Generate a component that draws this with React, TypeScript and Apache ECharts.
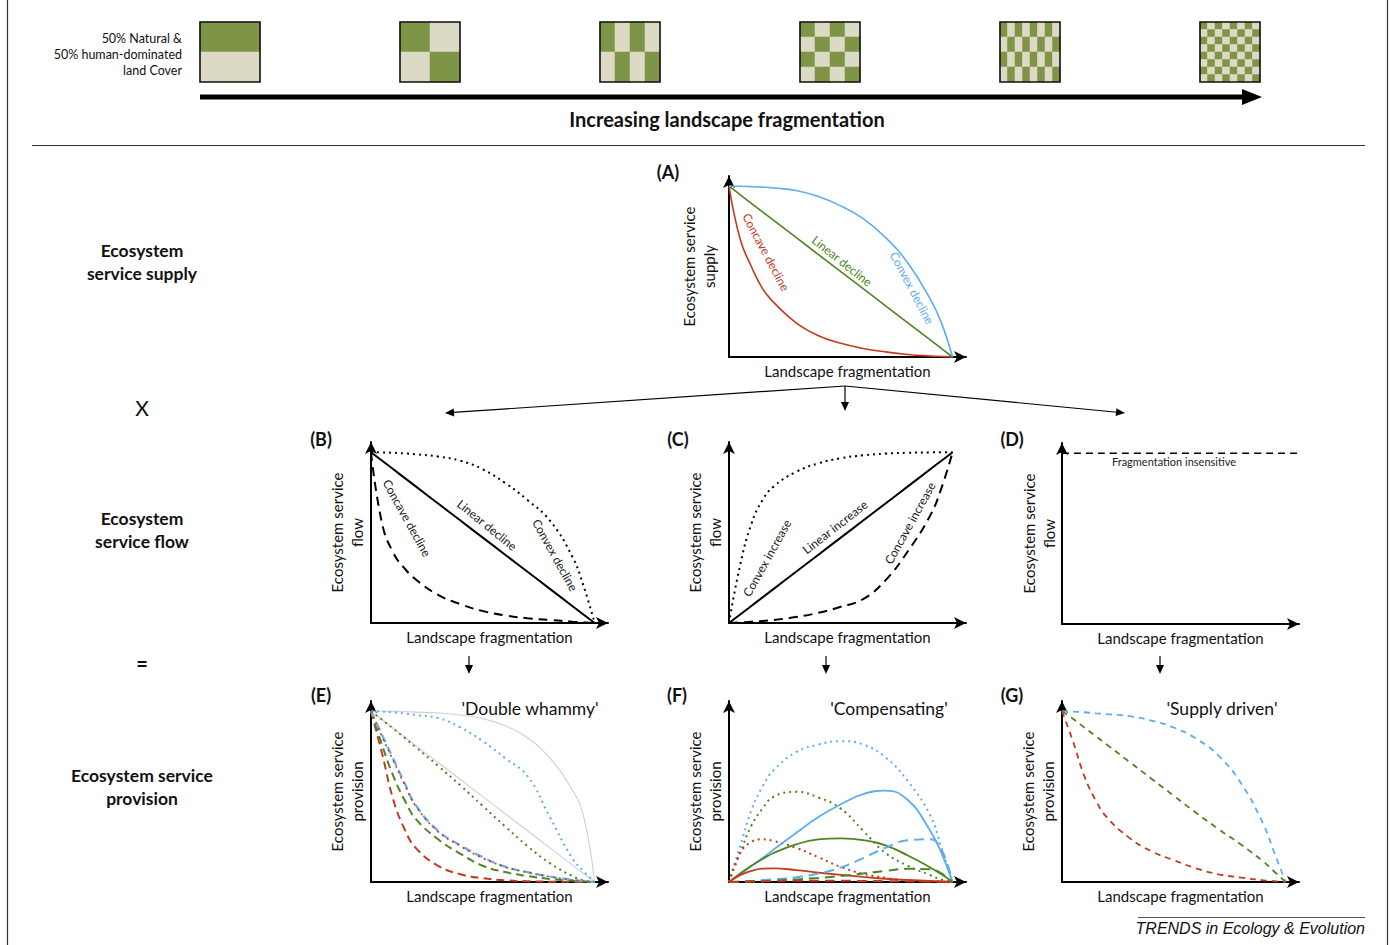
import React, { useEffect, useRef } from "react";
import * as echarts from "echarts";

const FONT = "Lato, 'Noto Sans', sans-serif";
const RED = "#c43a1f";
const GREEN = "#4e8521";
const BLUE = "#5eacf3";
const GRAY = "#d0d0d0";
const PATCH_GREEN = "#7e9446";
const PATCH_BEIGE = "#dcd9c5";

// Landscape patterns (rows top to bottom; 1 = natural, 0 = human-dominated)
const patchRows1 = ["1", "0"];
const patchRows2 = ["10", "01"];
const patchRows3 = ["1010", "0101"];
const patchRows4 = ["1010", "0101", "1010", "0101"];
const patchRows5 = ["10101010", "01010101", "10101010", "01010101"];
const patchRows6 = ["10101010", "01010101", "10101010", "01010101", "10101010", "01010101", "10101010", "01010101"];
const patchLevels = [patchRows1, patchRows2, patchRows3, patchRows4, patchRows5, patchRows6];

// Landscape fragmentation sample positions (0..1)
const xs = [0, 0.05, 0.1, 0.15, 0.2, 0.3, 0.4, 0.5, 0.6, 0.7, 0.8, 0.9, 0.95, 1];

// (A) supply
const supplyConcave = [1, 0.69, 0.53, 0.40, 0.32, 0.20, 0.125, 0.08, 0.05, 0.03, 0.015, 0.006, 0.003, 0];
const supplyLinear = [1, 0.95, 0.9, 0.85, 0.8, 0.7, 0.6, 0.5, 0.4, 0.3, 0.2, 0.1, 0.05, 0];
const supplyConvex = [1, 1, 0.998, 0.995, 0.99, 0.975, 0.94, 0.885, 0.81, 0.7, 0.55, 0.34, 0.2, 0];

// (B) flow, declining
const flowConcaveDec = [1, 0.58, 0.41, 0.32, 0.255, 0.165, 0.11, 0.07, 0.044, 0.028, 0.018, 0.008, 0.004, 0];
const flowLinearDec = [1, 0.95, 0.9, 0.85, 0.8, 0.7, 0.6, 0.5, 0.4, 0.3, 0.2, 0.1, 0.05, 0];
const flowConvexDec = [1, 0.999, 0.997, 0.993, 0.988, 0.975, 0.95, 0.9, 0.82, 0.72, 0.6, 0.39, 0.22, 0];

// (C) flow, increasing
const flowConvexInc = [0, 0.34, 0.58, 0.72, 0.8, 0.885, 0.935, 0.965, 0.982, 0.992, 0.997, 0.999, 1, 1];
const flowLinearInc = [0, 0.05, 0.1, 0.15, 0.2, 0.3, 0.4, 0.5, 0.6, 0.7, 0.8, 0.9, 0.95, 1];
const flowConcaveInc = [0, 0.003, 0.007, 0.012, 0.018, 0.035, 0.06, 0.095, 0.14, 0.25, 0.42, 0.63, 0.79, 1];

// (D) flow, insensitive
const flowInsensX = [0, 1.1];
const flowInsensY = [1, 1];

// (E) 'Double whammy'
const eGrayConvex = [1, 1, 0.999, 0.997, 0.995, 0.99, 0.978, 0.957, 0.915, 0.845, 0.725, 0.54, 0.39, 0];
const eGrayLinear = [1, 0.95, 0.9, 0.85, 0.8, 0.7, 0.6, 0.5, 0.4, 0.3, 0.2, 0.1, 0.05, 0];
const eBlueDotted = [1, 0.998, 0.993, 0.987, 0.978, 0.96, 0.905, 0.825, 0.725, 0.62, 0.38, 0.14, 0.065, 0];
const eGreenDotted = [1, 0.95, 0.898, 0.845, 0.79, 0.68, 0.565, 0.445, 0.325, 0.21, 0.11, 0.035, 0.01, 0];
const eBlueDashed = [1, 0.86, 0.72, 0.58, 0.45, 0.3, 0.215, 0.145, 0.09, 0.058, 0.032, 0.013, 0.005, 0];
const eRedDotted = [1, 0.85, 0.71, 0.57, 0.445, 0.295, 0.21, 0.14, 0.088, 0.056, 0.031, 0.012, 0.005, 0];
const eGreenDashed = [1, 0.8, 0.62, 0.48, 0.37, 0.25, 0.165, 0.095, 0.058, 0.035, 0.018, 0.007, 0.003, 0];
const eRedDashed = [1, 0.75, 0.48, 0.31, 0.2, 0.095, 0.045, 0.022, 0.01, 0.005, 0.002, 0.001, 0, 0];

// (F) 'Compensating'
const fBlueDotted = [0, 0.21, 0.42, 0.56, 0.655, 0.76, 0.805, 0.825, 0.805, 0.73, 0.59, 0.39, 0.2, 0];
const fGreenDotted = [0, 0.17, 0.33, 0.43, 0.5, 0.528, 0.495, 0.43, 0.3, 0.17, 0.095, 0.04, 0.015, 0];
const fRedDotted = [0, 0.17, 0.235, 0.25, 0.24, 0.2, 0.145, 0.088, 0.048, 0.024, 0.01, 0.004, 0.002, 0];
const fBlueSolid = [0, 0.045, 0.093, 0.14, 0.19, 0.287, 0.38, 0.455, 0.515, 0.535, 0.48, 0.3, 0.17, 0];
const fGreenSolid = [0, 0.05, 0.095, 0.135, 0.17, 0.22, 0.25, 0.255, 0.245, 0.215, 0.155, 0.085, 0.045, 0];
const fRedSolid = [0, 0.04, 0.065, 0.078, 0.08, 0.07, 0.055, 0.042, 0.03, 0.019, 0.012, 0.006, 0.003, 0];
const fBlueDashed = [0, 0.002, 0.006, 0.011, 0.016, 0.028, 0.05, 0.085, 0.14, 0.2, 0.245, 0.25, 0.19, 0];
const fGreenDashed = [0, 0.001, 0.003, 0.005, 0.008, 0.015, 0.024, 0.035, 0.05, 0.065, 0.077, 0.075, 0.05, 0];
const fRedDashed = [0, 0.002, 0.004, 0.005, 0.006, 0.007, 0.007, 0.007, 0.006, 0.005, 0.004, 0.003, 0.002, 0];

// (G) 'Supply driven'
const gBlueDashed = [1, 0.998, 0.994, 0.988, 0.983, 0.972, 0.945, 0.905, 0.84, 0.74, 0.58, 0.34, 0.17, 0];
const gGreenDashed = [1, 0.955, 0.905, 0.855, 0.805, 0.705, 0.605, 0.505, 0.405, 0.31, 0.22, 0.12, 0.06, 0];
const gRedDashed = [1, 0.82, 0.62, 0.48, 0.38, 0.26, 0.18, 0.128, 0.08, 0.045, 0.026, 0.01, 0.005, 0];

// Layout
const AX_MAX = 1.06;
const PW = 237;
const PH = 181;
const PANELS = [
  { left: 729, top: 176, yName: "Ecosystem service\nsupply", gap: 10 },
  { left: 371, top: 442, yName: "Ecosystem service\nflow", gap: 4 },
  { left: 729, top: 442, yName: "Ecosystem service\nflow", gap: 4 },
  { left: 1062, top: 443, yName: "Ecosystem service\nflow", gap: 3 },
  { left: 371, top: 701, yName: "Ecosystem service\nprovision", gap: 4 },
  { left: 729, top: 701, yName: "Ecosystem service\nprovision", gap: 4 },
  { left: 1062, top: 701, yName: "Ecosystem service\nprovision", gap: 4 },
];
const PATCH_LEFTS = [200, 400, 600, 800, 1000, 1200];
const PATCH_TOP = 22;
const PATCH_SIZE = 60;

const DOT = [2, 4];
const DASH = [9, 6];

function curve(grid: number, ys: number[], color: string, width: number, type: any, xArr: number[] = xs) {
  return {
    type: "line",
    xAxisIndex: grid,
    yAxisIndex: grid,
    data: xArr.map((x, i) => [x, ys[i]]),
    smooth: 0.45,
    showSymbol: false,
    symbol: "none",
    clip: false,
    silent: true,
    lineStyle: { color, width, type, cap: "butt" },
    z: 3,
  };
}

function arrowHead(x1: number, y1: number, x2: number, y2: number, len: number, half: number) {
  const dx = x2 - x1, dy = y2 - y1;
  const L = Math.hypot(dx, dy);
  const ux = dx / L, uy = dy / L;
  const bx = x2 - ux * len, by = y2 - uy * len;
  return [[x2, y2], [bx - uy * half, by + ux * half], [bx + uy * half, by - ux * half]];
}

function arrow(x1: number, y1: number, x2: number, y2: number, w: number, len: number, half: number) {
  const dx = x2 - x1, dy = y2 - y1;
  const L = Math.hypot(dx, dy);
  const ex = x2 - (dx / L) * (len - 1), ey = y2 - (dy / L) * (len - 1);
  return [
    { type: "line", silent: true, z: 10, shape: { x1, y1, x2: ex, y2: ey }, style: { stroke: "#000", lineWidth: w } },
    { type: "polygon", silent: true, z: 10, shape: { points: arrowHead(x1, y1, x2, y2, len, half) }, style: { fill: "#000" } },
  ];
}

function txt(text: string, x: number, y: number, o: any = {}) {
  return {
    type: "text",
    x,
    y,
    rotation: ((o.rot || 0) * Math.PI) / 180,
    silent: true,
    z: 20,
    style: {
      text,
      fill: o.color || "#111",
      fontFamily: o.family || FONT,
      fontSize: o.size || 12,
      fontWeight: o.weight || "normal",
      fontStyle: o.style || "normal",
      align: o.align || "center",
      verticalAlign: "middle",
      lineHeight: o.lh,
    },
  };
}

export default function App() {
  const ref = useRef<HTMLDivElement>(null);

  useEffect(() => {
    if (!ref.current) return;
    const chart = echarts.init(ref.current, null, { renderer: "svg" });

    const grids: any[] = PANELS.map((p) => ({ left: p.left, top: p.top, width: PW, height: PH, containLabel: false }));
    const xAxes: any[] = PANELS.map((_, i) => ({
      gridIndex: i,
      type: "value",
      min: 0,
      max: AX_MAX,
      name: "Landscape fragmentation",
      nameLocation: "middle",
      nameGap: 6,
      nameTextStyle: { fontFamily: FONT, fontSize: 15, color: "#111", verticalAlign: "top" },
      axisLine: { show: true, onZero: false, symbol: ["none", "arrow"], symbolSize: [9, 12], lineStyle: { color: "#000", width: 2 } },
      axisTick: { show: false },
      axisLabel: { show: false },
      splitLine: { show: false },
    }));
    const yAxes: any[] = PANELS.map((p, i) => ({
      gridIndex: i,
      type: "value",
      min: 0,
      max: AX_MAX,
      name: p.yName,
      nameLocation: "middle",
      nameGap: p.gap,
      nameRotate: 90,
      nameTextStyle: { fontFamily: FONT, fontSize: 15, color: "#111", lineHeight: 20 },
      axisLine: { show: true, onZero: false, symbol: ["none", "arrow"], symbolSize: [9, 12], lineStyle: { color: "#000", width: 2 } },
      axisTick: { show: false },
      axisLabel: { show: false },
      splitLine: { show: false },
    }));

    const patchSeries: any[] = [];
    patchLevels.forEach((rows, k) => {
      const gi = PANELS.length + k;
      const nCols = rows[0].length;
      grids.push({ left: PATCH_LEFTS[k], top: PATCH_TOP, width: PATCH_SIZE, height: PATCH_SIZE });
      xAxes.push({ gridIndex: gi, type: "category", show: false, data: Array.from({ length: nCols }, (_, i) => String(i)) });
      yAxes.push({ gridIndex: gi, type: "category", show: false, inverse: true, data: rows.map((_, i) => String(i)) });
      const data: number[][] = [];
      rows.forEach((row, r) => row.split("").forEach((c, col) => data.push([col, r, Number(c)])));
      patchSeries.push({ type: "heatmap", xAxisIndex: gi, yAxisIndex: gi, data, silent: true, itemStyle: { borderWidth: 0 }, emphasis: { disabled: true } });
    });

    const lineSeries: any[] = [
      // A
      curve(0, supplyConcave, RED, 1.6, "solid"),
      curve(0, supplyLinear, GREEN, 1.6, "solid"),
      curve(0, supplyConvex, BLUE, 1.6, "solid"),
      // B
      curve(1, flowConcaveDec, "#000", 2, DASH),
      curve(1, flowLinearDec, "#000", 2, "solid"),
      curve(1, flowConvexDec, "#000", 2, DOT),
      // C
      curve(2, flowConvexInc, "#000", 2, DOT),
      curve(2, flowLinearInc, "#000", 2, "solid"),
      curve(2, flowConcaveInc, "#000", 2, DASH),
      // D
      curve(3, flowInsensY, "#000", 1.6, [7, 5], flowInsensX),
      // E
      curve(4, eGrayConvex, GRAY, 1.1, "solid"),
      curve(4, eGrayLinear, GRAY, 1.1, "solid"),
      curve(4, eBlueDotted, BLUE, 2, DOT),
      curve(4, eGreenDotted, GREEN, 2, DOT),
      curve(4, eRedDashed, RED, 2, [8, 5]),
      curve(4, eGreenDashed, GREEN, 2, [8, 5]),
      curve(4, eBlueDashed, BLUE, 2.2, [8, 5]),
      curve(4, eRedDotted, RED, 1.6, DOT),
      // F
      curve(5, fBlueDotted, BLUE, 2, DOT),
      curve(5, fGreenDotted, GREEN, 2, DOT),
      curve(5, fRedDotted, RED, 2, DOT),
      curve(5, fBlueSolid, BLUE, 1.8, "solid"),
      curve(5, fGreenSolid, GREEN, 1.8, "solid"),
      curve(5, fRedSolid, RED, 1.8, "solid"),
      curve(5, fBlueDashed, BLUE, 2, [10, 6]),
      curve(5, fGreenDashed, GREEN, 2, [10, 6]),
      curve(5, fRedDashed, RED, 2, [10, 6]),
      // G
      curve(6, gBlueDashed, BLUE, 1.8, [6, 5]),
      curve(6, gGreenDashed, GREEN, 1.8, [6, 5]),
      curve(6, gRedDashed, RED, 1.8, [6, 5]),
    ];

    const graphic: any[] = [];
    // frame
    graphic.push({ type: "line", silent: true, shape: { x1: 7.5, y1: 0, x2: 7.5, y2: 945 }, style: { stroke: "#333", lineWidth: 1.2 } });
    graphic.push({ type: "line", silent: true, shape: { x1: 1387.5, y1: 0, x2: 1387.5, y2: 945 }, style: { stroke: "#333", lineWidth: 1.2 } });
    graphic.push({ type: "line", silent: true, shape: { x1: 32, y1: 145.5, x2: 1365, y2: 145.5 }, style: { stroke: "#333", lineWidth: 1.2 } });
    // patch borders
    PATCH_LEFTS.forEach((l) =>
      graphic.push({ type: "rect", silent: true, z: 15, shape: { x: l, y: PATCH_TOP, width: PATCH_SIZE, height: PATCH_SIZE }, style: { fill: "none", stroke: "#111", lineWidth: 1.6 } })
    );
    // big fragmentation arrow
    graphic.push(...arrow(200, 97, 1262, 97, 5, 20, 8));
    graphic.push(txt("Increasing landscape fragmentation", 727, 119, { size: 20, weight: "bold" }));
    graphic.push(txt("50% Natural &\n50% human-dominated\nland Cover", 182, 54, { size: 12.5, align: "right", lh: 16 }));

    // left column
    graphic.push(txt("Ecosystem\nservice supply", 142, 262, { size: 17.5, weight: "bold", lh: 23 }));
    graphic.push(txt("X", 142, 407, { size: 21 }));
    graphic.push(txt("Ecosystem\nservice flow", 142, 530, { size: 17.5, weight: "bold", lh: 23 }));
    graphic.push(txt("=", 142, 663, { size: 20, weight: "bold" }));
    graphic.push(txt("Ecosystem service\nprovision", 142, 787, { size: 17.5, weight: "bold", lh: 23 }));

    // panel letters
    const letters: [string, number, number][] = [
      ["(A)", 668, 172], ["(B)", 321, 439], ["(C)", 678, 439], ["(D)", 1012, 439],
      ["(E)", 321, 695], ["(F)", 677, 695], ["(G)", 1012, 695],
    ];
    letters.forEach(([t, x, y]) => graphic.push(txt(t, x, y, { size: 18, weight: "bold" })));

    // curve labels
    graphic.push(txt("Concave decline", 766, 252, { size: 12, rot: -62, color: RED }));
    graphic.push(txt("Linear decline", 842, 261, { size: 12, rot: -38.5, color: GREEN }));
    graphic.push(txt("Convex decline", 912, 288, { size: 12, rot: -62, color: BLUE }));
    graphic.push(txt("Concave decline", 407, 518, { size: 12, rot: -61, color: "#222" }));
    graphic.push(txt("Linear decline", 487, 525, { size: 12, rot: -39, color: "#222" }));
    graphic.push(txt("Convex decline", 555, 555, { size: 12, rot: -61, color: "#222" }));
    graphic.push(txt("Convex increase", 767, 558, { size: 12, rot: 61, color: "#222" }));
    graphic.push(txt("Linear increase", 835, 527, { size: 12, rot: 38, color: "#222" }));
    graphic.push(txt("Concave increase", 910, 523, { size: 12, rot: 61, color: "#222" }));
    graphic.push(txt("Fragmentation insensitive", 1174, 461, { size: 11, color: "#222" }));

    graphic.push(txt("'Double whammy'", 530, 708, { size: 17.5 }));
    graphic.push(txt("'Compensating'", 889, 708, { size: 17.5 }));
    graphic.push(txt("'Supply driven'", 1222, 708, { size: 17.5 }));

    // connecting arrows
    graphic.push(...arrow(845, 386, 445, 413, 1.2, 9, 4));
    graphic.push(...arrow(845, 386, 845, 411, 1.2, 9, 4));
    graphic.push(...arrow(845, 386, 1125, 413, 1.2, 9, 4));
    graphic.push(...arrow(469, 656, 469, 674, 1.2, 9, 4));
    graphic.push(...arrow(826, 656, 826, 674, 1.2, 9, 4));
    graphic.push(...arrow(1160, 656, 1160, 674, 1.2, 9, 4));

    // source
    graphic.push({ type: "line", silent: true, shape: { x1: 1138, y1: 917.5, x2: 1365, y2: 917.5 }, style: { stroke: "#555", lineWidth: 1 } });
    graphic.push(txt("TRENDS in Ecology & Evolution", 1365, 928, { size: 16, style: "italic", align: "right", family: "'Liberation Sans', Arial, sans-serif" }));

    chart.setOption({
      animation: false,
      backgroundColor: "#fff",
      grid: grids,
      xAxis: xAxes,
      yAxis: yAxes,
      visualMap: {
        type: "piecewise",
        show: false,
        seriesIndex: patchSeries.map((_, i) => i),
        dimension: 2,
        pieces: [
          { value: 0, color: PATCH_BEIGE },
          { value: 1, color: PATCH_GREEN },
        ],
      },
      series: [...patchSeries, ...lineSeries],
      graphic,
    });

    return () => chart.dispose();
  }, []);

  return <div ref={ref} style={{ position: "absolute", left: 0, top: 0, width: 1390, height: 945 }} />;
}
